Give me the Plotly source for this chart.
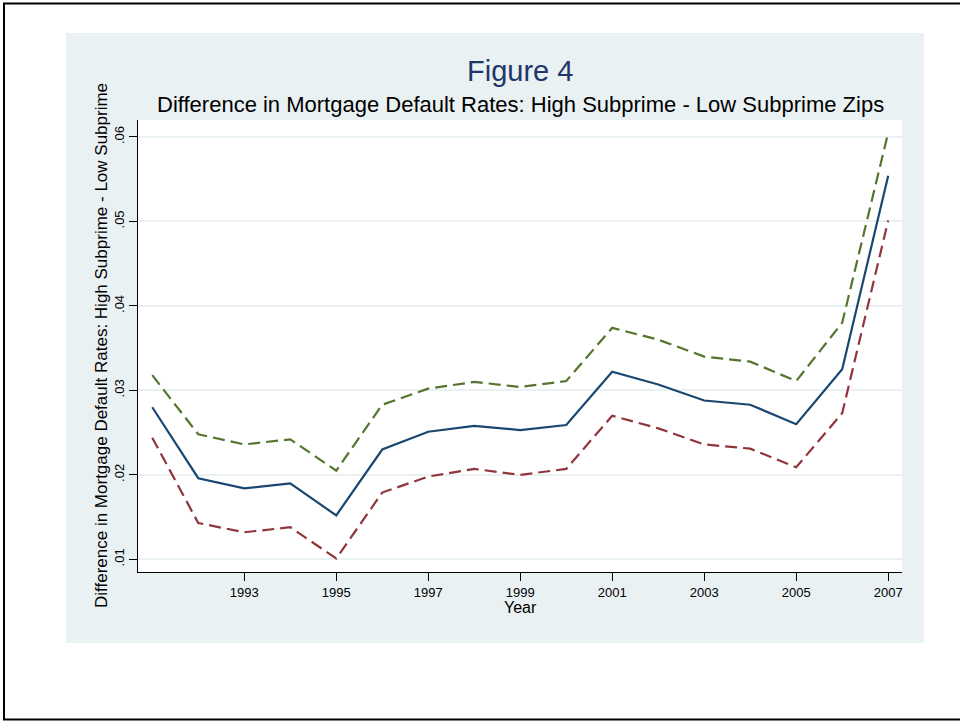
import plotly.graph_objects as go

# Difference in default rates (high minus low subprime zips) with confidence band
years = list(range(1991, 2008))
estimate = [0.0280, 0.0196, 0.0184, 0.0190, 0.0152, 0.0230, 0.0251, 0.0258, 0.0253,
            0.0259, 0.0322, 0.0307, 0.0288, 0.0283, 0.0260, 0.0325, 0.0554]
upper = [0.0318, 0.0248, 0.0236, 0.0242, 0.0205, 0.0283, 0.0302, 0.0310, 0.0304,
         0.0311, 0.0374, 0.0360, 0.0340, 0.0334, 0.0311, 0.0380, 0.0605]
lower = [0.0244, 0.0143, 0.0132, 0.0138, 0.0101, 0.0179, 0.0198, 0.0207, 0.0200,
         0.0207, 0.0270, 0.0255, 0.0236, 0.0231, 0.0209, 0.0273, 0.0501]

x_tickvals = [1993, 1995, 1997, 1999, 2001, 2003, 2005, 2007]
y_tickvals = [0.01, 0.02, 0.03, 0.04, 0.05, 0.06]
y_ticktext = [".01", ".02", ".03", ".04", ".05", ".06"]

FONT = "Liberation Sans, Arial, Helvetica, sans-serif"
NAVY = "#1A476F"
MAROON = "#90353B"
GREEN = "#55752F"
PANEL = "#EAF1F3"
DASH = "12px,6px"

fig = go.Figure()
fig.add_trace(go.Scatter(x=years, y=estimate, mode="lines",
                         line=dict(color=NAVY, width=2.2), showlegend=False))
fig.add_trace(go.Scatter(x=years, y=upper, mode="lines",
                         line=dict(color=GREEN, width=2.2, dash=DASH), showlegend=False))
fig.add_trace(go.Scatter(x=years, y=lower, mode="lines",
                         line=dict(color=MAROON, width=2.2, dash=DASH), showlegend=False))

# plot area in pixels: x 138..902, y 120..572
L, R, T, B = 138, 902, 120, 572
W, H = R - L, B - T


def px(xp):
    return (xp - L) / W


def py(yp):
    return (B - yp) / H


frame = dict(color="black", width=2)
shapes = [
    # outer frame: top, left and bottom edges
    dict(type="line", xref="paper", yref="paper", layer="below",
         x0=px(3), x1=px(960), y0=py(3.5), y1=py(3.5), line=frame),
    dict(type="line", xref="paper", yref="paper", layer="below",
         x0=px(4), x1=px(4), y0=py(3), y1=py(720), line=frame),
    dict(type="line", xref="paper", yref="paper", layer="below",
         x0=px(3), x1=px(960), y0=py(719.5), y1=py(719.5), line=frame),
    # graph region panel
    dict(type="rect", xref="paper", yref="paper", layer="below",
         x0=px(66), x1=px(924), y0=py(643), y1=py(33),
         line=dict(width=0), fillcolor=PANEL),
    # white plot region
    dict(type="rect", xref="paper", yref="paper", layer="below",
         x0=0, x1=1, y0=0, y1=1, line=dict(width=0), fillcolor="white"),
]

annotations = [
    dict(text="Figure 4", xref="paper", yref="paper", x=0.5, y=py(71),
         xanchor="center", yanchor="middle", showarrow=False,
         font=dict(family=FONT, size=29, color="#23366A")),
    dict(text="Difference in Mortgage Default Rates: High Subprime - Low Subprime Zips",
         xref="paper", yref="paper", x=0.5, y=py(104.5),
         xanchor="center", yanchor="middle", showarrow=False,
         font=dict(family=FONT, size=22, color="black")),
    dict(text="Year", xref="paper", yref="paper", x=0.5, y=py(607),
         xanchor="center", yanchor="middle", showarrow=False,
         font=dict(family=FONT, size=16, color="black")),
    dict(text="Difference in Mortgage Default Rates: High Subprime - Low Subprime",
         xref="paper", yref="paper", x=px(101), y=py(346), textangle=-90,
         xanchor="center", yanchor="middle", showarrow=False,
         font=dict(family=FONT, size=17, color="black")),
]

fig.update_layout(
    width=960, height=721,
    margin=dict(l=L, r=960 - R, t=T, b=721 - B, pad=0),
    paper_bgcolor="white", plot_bgcolor="white",
    font=dict(family=FONT, color="black"),
    shapes=shapes, annotations=annotations,
    xaxis=dict(range=[1990.69, 2007.30], tickvals=x_tickvals,
               ticks="outside", ticklen=8, tickwidth=1, tickcolor="black",
               showline=True, linecolor="black", linewidth=1,
               showgrid=False, zeroline=False,
               tickfont=dict(family=FONT, size=13, color="black")),
    yaxis=dict(range=[0.0085, 0.0620], tickvals=y_tickvals, ticktext=y_ticktext,
               tickangle=-90,
               ticks="outside", ticklen=8, tickwidth=1, tickcolor="black",
               showline=True, linecolor="black", linewidth=1,
               showgrid=True, gridcolor=PANEL, gridwidth=2, zeroline=False,
               tickfont=dict(family=FONT, size=13, color="black")),
)

fig.write_html("out.html")
